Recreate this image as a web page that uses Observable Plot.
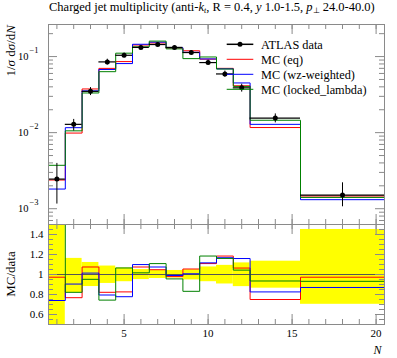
<!DOCTYPE html>
<html><head><meta charset="utf-8">
<script src="https://cdn.jsdelivr.net/npm/d3@7"></script>
<script src="https://cdn.jsdelivr.net/npm/@observablehq/plot@0.6"></script>
<style>
body{margin:0;background:#fff;}
#wrap{position:relative;width:397px;height:358px;overflow:hidden;font-family:"Liberation Serif",serif;color:#000;}
#wrap > svg{position:absolute;left:0;}
#title{position:absolute;left:49px;top:-1px;font-size:12.5px;white-space:nowrap;line-height:17px;}
#title sub{font-size:8px;vertical-align:-2px;line-height:0;}
</style></head><body>
<div id="wrap"><div id="title">Charged jet multiplicity (anti-<i>k</i><sub><i>t</i></sub>, R = 0.4, <i>y</i> 1.0-1.5, <i>p</i><sub>⊥</sub> 24.0-40.0)</div></div>
<script>
// ---- data ----
const binLow    = [0.5,1.5,2.5,3.5,4.5,5.5,6.5,7.5,8.5,9.5,10.5,11.5,12.5,15.5];
const binHigh   = [1.5,2.5,3.5,4.5,5.5,6.5,7.5,8.5,9.5,10.5,11.5,12.5,15.5,20.5];
const binCenter = [1,2,3,4,5,6,7,8,9,10,11,12,14,18];
const dataVal     = [0.00245,0.01285,0.0349,0.0851,0.104,0.132,0.144,0.132,0.113,0.0834,0.0591,0.0388,0.01556,0.00151];
const dataErrUp   = [0.00149,0.00207,0.0042,0.0072,0.0068,0.0065,0.0058,0.0053,0.0054,0.0063,0.0054,0.0045,0.00207,0.00068];
const dataErrDown = [0.0013,0.00234,0.0042,0.0076,0.0075,0.0067,0.0058,0.0046,0.0061,0.006,0.0056,0.0047,0.00213,0.00045];
const mcEq     = [0.002384,0.00987,0.03752,0.06995,0.0859,0.1419,0.1509,0.1292,0.1192,0.0925,0.0700,0.0413,0.01167,0.001469];
const mcWz     = [0.001813,0.01162,0.03539,0.06765,0.0809,0.1451,0.1548,0.1307,0.1138,0.0931,0.0690,0.0450,0.01285,0.001314];
const mcLocked = [0.00372,0.01056,0.03322,0.0633,0.1108,0.1342,0.1597,0.1262,0.0940,0.0988,0.0686,0.0405,0.01455,0.001407];
const dataName = "ATLAS data";
const seriesNames  = ["MC (eq)","MC (wz-weighted)","MC (locked_lambda)"];
const seriesColors = ["#ff0000","#0000ff","#008000"];
const xMajorTicks = [5,10,15,20];
const xTickLabels = ["5","10","15","20"];
const yMajorTicks = [0.001,0.01,0.1];
const yTickBase = ["10","10","10"];
const yTickExp  = ["−3","−2","−1"];
const ratioTicks = [0.6,0.8,1,1.2,1.4];
const ratioTickLabels = ["0.6","0.8","1","1.2","1.4"];
const xLabel = "N";

// ---- helpers ----
const W = 397, ML = 48, MR = 13;
const FW = W - ML - MR;
const tickColor = "#8a8a8a";
const xMinorTicks = d3.range(1, 21);
const yMinorTicks = [];
for (const e of [1e-4,1e-3,1e-2,1e-1]) for (let k=2;k<=9;k++) yMinorTicks.push(k*e);
const yDomain = [6.2e-4, 0.264];
const yMinorIn = yMinorTicks.filter(v => v>=yDomain[0] && v<=yDomain[1]);
const ratioMinor = d3.range(10, 31).map(k => k*0.05).filter(v=>v>0.5&&v<1.5);
const steps = vals => vals.flatMap((v,i)=>[{x:binLow[i],y:v},{x:binHigh[i],y:v}]);
const mcs = [mcEq, mcWz, mcLocked];
const pts = dataVal.map((v,i)=>({c:binCenter[i],lo:binLow[i],hi:binHigh[i],v,y1:v-dataErrDown[i],y2:v+dataErrUp[i]}));
const baseStyle = {background:"transparent",overflow:"visible",fontFamily:"'Liberation Serif', serif",fontSize:"11px",color:"#000"};

function frameTicks(FH, yMaj, yMin, yMajLen, yMinLen){
  const m = [];
  m.push(Plot.tickX(xMinorTicks,{x:d=>d,stroke:tickColor,insetTop:FH-5}));
  m.push(Plot.tickX(xMinorTicks,{x:d=>d,stroke:tickColor,insetBottom:FH-5}));
  m.push(Plot.tickX(xMajorTicks,{x:d=>d,stroke:tickColor,insetTop:FH-10}));
  m.push(Plot.tickX(xMajorTicks,{x:d=>d,stroke:tickColor,insetBottom:FH-10}));
  m.push(Plot.tickY(yMin,{y:d=>d,stroke:tickColor,insetRight:FW-yMinLen}));
  m.push(Plot.tickY(yMin,{y:d=>d,stroke:tickColor,insetLeft:FW-yMinLen}));
  m.push(Plot.tickY(yMaj,{y:d=>d,stroke:tickColor,insetRight:FW-yMajLen}));
  m.push(Plot.tickY(yMaj,{y:d=>d,stroke:tickColor,insetLeft:FW-yMajLen}));
  m.push(Plot.frame({stroke:tickColor}));
  return m;
}

// ---- main panel ----
const mainH = 230, mainMT = 24, mainMB = 6;
const mainFH = mainH - mainMT - mainMB;
const main = Plot.plot({
  width: W, height: mainH, marginTop: mainMT, marginBottom: mainMB, marginLeft: ML, marginRight: MR,
  x: {domain:[0.5,20.5], axis:null},
  y: {type:"log", domain:yDomain, axis:null},
  style: baseStyle,
  marks: [
    ...mcs.map((vals,i)=>Plot.line(steps(vals),{x:"x",y:"y",stroke:seriesColors[i],strokeWidth:1,clip:true})),
    Plot.ruleY(pts,{y:"v",x1:"lo",x2:"hi",stroke:"#000",strokeWidth:1.2}),
    Plot.ruleX(pts,{x:"c",y1:"y1",y2:"y2",stroke:"#000",strokeWidth:1}),
    Plot.dot(pts,{x:"c",y:"v",r:2.5,fill:"#000"}),
    ...frameTicks(mainFH, yMajorTicks, yMinorIn, 9, 5),
    Plot.text(yMajorTicks,{y:d=>d,text:(d,i)=>yTickBase[i],frameAnchor:"left",dx:-20,textAnchor:"end",fontSize:10.5}),
    Plot.text(yMajorTicks,{y:d=>d,text:(d,i)=>yTickExp[i],frameAnchor:"left",dx:-19,dy:-6,textAnchor:"start",fontSize:8.5})
  ]
});
main.style.top = "0px";

// ---- ratio panel ----
const rH = 140, rMT = 6, rMB = 34;
const rFH = rH - rMT - rMB;
const bands = pts.map(p=>({lo:p.lo,hi:p.hi,r1:p.y1/p.v,r2:p.y2/p.v}));
const ratioSteps = vals => steps(vals.map((v,i)=>v/dataVal[i]));
const ratio = Plot.plot({
  width: W, height: rH, marginTop: rMT, marginBottom: rMB, marginLeft: ML, marginRight: MR,
  x: {domain:[0.5,20.5], axis:null},
  y: {domain:[0.5,1.5], axis:null},
  style: baseStyle,
  marks: [
    Plot.rect(bands,{x1:"lo",x2:"hi",y1:"r1",y2:"r2",fill:"#ffff00",clip:true}),
    Plot.ruleY([1],{stroke:"#555",strokeWidth:1}),
    ...mcs.map((vals,i)=>Plot.line(ratioSteps(vals),{x:"x",y:"y",stroke:seriesColors[i],strokeWidth:1,clip:true})),
    ...frameTicks(rFH, ratioTicks, ratioMinor, 9, 5),
    Plot.text(ratioTicks,{y:d=>d,text:(d,i)=>ratioTickLabels[i],frameAnchor:"left",dx:-5,textAnchor:"end",fontSize:11}),
    Plot.text(xMajorTicks,{x:d=>d,text:(d,i)=>xTickLabels[i],frameAnchor:"bottom",dy:12,fontSize:11}),
    Plot.text([xLabel],{text:d=>d,frameAnchor:"bottom-right",dx:-3,dy:29,textAnchor:"end",fontStyle:"italic",fontSize:12})
  ]
});
ratio.style.top = "218px";

const wrap = document.getElementById("wrap");
wrap.appendChild(main);
wrap.appendChild(ratio);

// ---- overlay: axis labels + legend ----
const ov = d3.select(wrap).append("svg").attr("width",W).attr("height",358)
  .style("top","0px").style("font-family","'Liberation Serif', serif").style("pointer-events","none");
const yl = ov.append("text").attr("transform","translate(15,25) rotate(-90)").attr("text-anchor","end").attr("font-size",13);
yl.append("tspan").text("1/");
yl.append("tspan").attr("font-style","italic").text("σ");
yl.append("tspan").text(" d");
yl.append("tspan").attr("font-style","italic").text("σ");
yl.append("tspan").text("/d");
yl.append("tspan").attr("font-style","italic").text("N");
ov.append("text").attr("transform","translate(15,274) rotate(-90)").attr("text-anchor","middle").attr("font-size",13).text("MC/data");

const legRows = [{name:dataName,color:"#000",dot:true}, ...seriesNames.map((n,i)=>({name:n,color:seriesColors[i],dot:false}))];
const lg = ov.append("g");
legRows.forEach((r,i)=>{
  const y = 44.3 + i*15;
  lg.append("line").attr("x1",226.7).attr("x2",253.3).attr("y1",y).attr("y2",y).attr("stroke",r.color).attr("stroke-width",r.dot?1.5:1);
  if (r.dot) lg.append("circle").attr("cx",240).attr("cy",y).attr("r",2.5).attr("fill","#000");
  lg.append("text").attr("x",261).attr("y",y).attr("dy","0.35em").attr("font-size",12.3).text(r.name);
});
</script>
</body></html>
